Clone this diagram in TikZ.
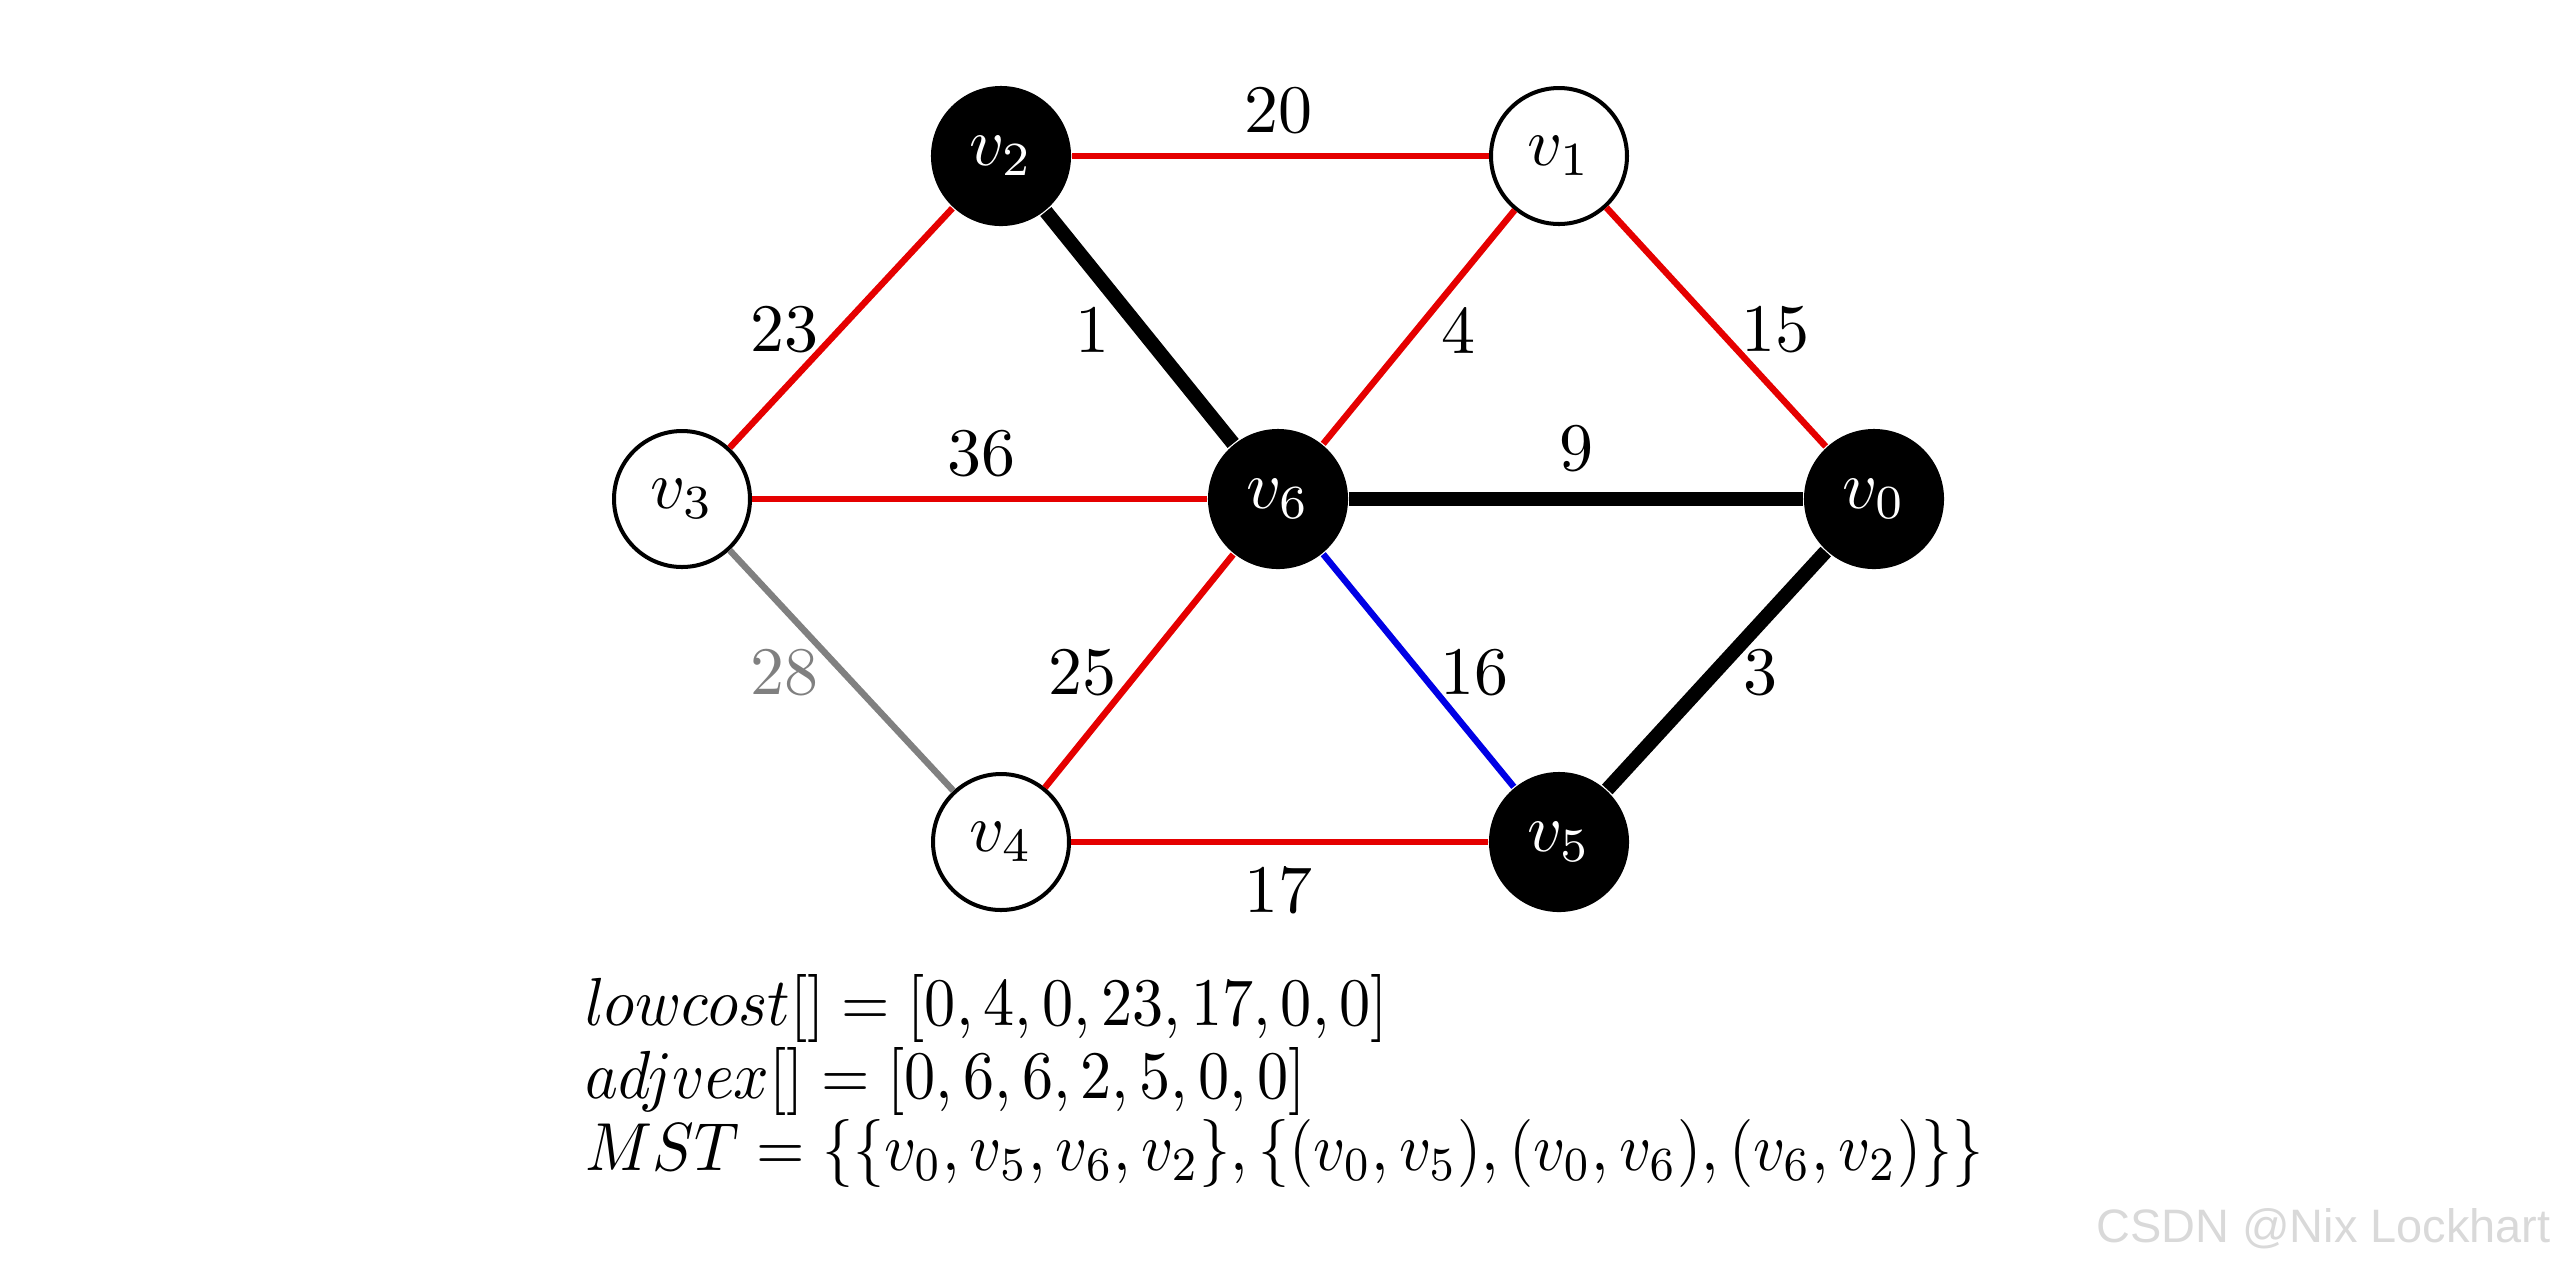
\documentclass[tikz,border=0pt]{standalone}
\usepackage{fontspec}
\newfontfamily\wmfont{Liberation Sans}
\begin{document}
\begin{tikzpicture}[x=0.14706pt,y=-0.14706pt,
  every node/.style={font=\normalsize},
  vw/.style={circle, draw, line width=0.59pt, minimum size=20pt, inner sep=0pt, fill=white},
  vb/.style={circle, fill=black, text=white, minimum size=20.6pt, inner sep=0pt},
  redge/.style={red!90!black, line width=0.95pt},
  tedge/.style={black, line width=2.1pt},
  bedge/.style={blue!90!black, line width=0.95pt},
  gedge/.style={gray, line width=0.95pt},
  lbl/.style={inner sep=0pt},
  eq/.style={anchor=base west, inner sep=0pt, transform shape, xscale=0.915}]
\useasboundingbox (0,0) rectangle (2560,1266);
% vertices
\node[vb] (v2) at (1001,156) {$v_2$};
\node[vw] (v1) at (1559,156) {$v_1$};
\node[vw] (v3) at (682,499) {$v_3$};
\node[vb] (v6) at (1278,499) {$v_6$};
\node[vb] (v0) at (1874,499) {$v_0$};
\node[vw] (v4) at (1001,842) {$v_4$};
\node[vb] (v5) at (1559,842) {$v_5$};
% edges
\draw[redge] (v2) -- (v1);
\draw[redge] (v2) -- (v3);
\draw[tedge] (v2) -- (v6);
\draw[redge] (v1) -- (v6);
\draw[redge] (v1) -- (v0);
\draw[redge] (v3) -- (v6);
\draw[tedge] (v6) -- (v0);
\draw[gedge] (v3) -- (v4);
\draw[redge] (v4) -- (v6);
\draw[bedge] (v6) -- (v5);
\draw[tedge] (v5) -- (v0);
\draw[redge] (v4) -- (v5);
% weights
\node[lbl] (w20) at (1278,111) {20};
\node[lbl] (w23) at (784,330) {23};
\node[lbl] (w1) at (1092,330) {1};
\node[lbl] (w4) at (1458,330) {4};
\node[lbl] (w15) at (1775,330) {15};
\node[lbl] (w36) at (981,454) {36};
\node[lbl] (w9) at (1576,449) {9};
\node[lbl, text=gray] (w28) at (784,673) {28};
\node[lbl] (w25) at (1082,673) {25};
\node[lbl] (w16) at (1474,673) {16};
\node[lbl] (w3) at (1760,673) {3};
\node[lbl] (w17) at (1278,890) {17};
% arrays
\node[eq] (l1) at (584,1025) {$lowcost[] = [0,4,0,23,17,0,0]$};
\node[eq] (l2) at (584,1098) {$adjvex[] = [0,6,6,2,5,0,0]$};
\node[eq] (l3) at (584,1170) {$MST = \{\{v_0,v_5,v_6,v_2\},\{(v_0,v_5),(v_0,v_6),(v_6,v_2)\}\}$};
% watermark
\node[anchor=base east, inner sep=0pt, text=black!15, font=\wmfont\fontsize{6.9}{8}\selectfont] (wm) at (2552,1242) {CSDN @Nix Lockhart};
\end{tikzpicture}
\end{document}
